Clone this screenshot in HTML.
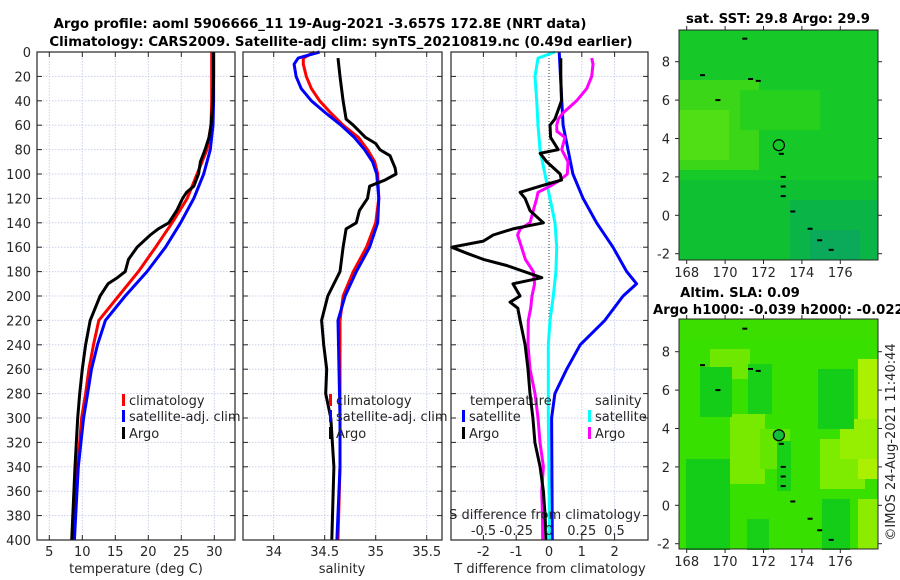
<!DOCTYPE html>
<html><head><meta charset="utf-8"><style>
html,body{margin:0;padding:0;background:#fff;}
svg{display:block;font-family:"DejaVu Sans","Liberation Sans",sans-serif;}
</style></head><body>
<svg id="fig" width="900" height="580" viewBox="0 0 900 580" xmlns="http://www.w3.org/2000/svg"></svg>
<script>
// ---------- data ----------
const depthTicks = [0,20,40,60,80,100,120,140,160,180,200,220,240,260,280,300,320,340,360,380,400];
const tempTicks = [5,10,15,20,25,30];
const salTicks = [34,34.5,35,35.5];
const salTickLabels = ["34","34.5","35","35.5"];
const tdTicks = [-2,-1,0,1,2];
const sdTicks = [-0.5,-0.25,0,0.25,0.5];
const sdTickLabels = ["-0.5","-0.25","0","0.25","0.5"];

const tClimDepth = [0,20,40,60,80,100,120,140,160,180,200,220,240,260,280,300,340,400];
const tClim = [29.6,29.6,29.6,29.5,28.9,27.4,25.9,23.6,21.1,18.5,15.5,12.5,11.7,11.0,10.5,9.9,9.3,8.6];
const tSat = [29.9,29.9,29.9,29.8,29.4,28.4,26.9,24.9,22.6,19.8,16.5,13.5,12.3,11.4,10.8,10.2,9.4,8.8];
const tArgoDepth = [0,20,40,60,70,80,90,100,110,115,120,130,140,145,150,160,170,180,185,190,200,220,240,260,280,300,340,400];
const tArgo = [29.9,29.9,29.8,29.5,29.2,28.6,27.9,27.6,26.9,25.8,25.2,24.3,23.1,21.5,20.3,18.3,17.0,16.5,15.3,13.9,12.7,11.2,10.5,10.0,9.6,9.3,8.9,8.4];

const sClimDepth = [0,5,10,20,30,40,50,60,70,80,90,100,120,140,160,180,200,220,260,300,340,400];
const sClim = [34.40,34.29,34.29,34.32,34.37,34.45,34.56,34.68,34.83,34.92,34.99,35.02,35.03,35.0,34.91,34.78,34.68,34.65,34.65,34.65,34.65,34.63];
const sSat = [34.45,34.24,34.20,34.22,34.27,34.37,34.51,34.66,34.79,34.89,34.97,35.01,35.03,35.02,34.94,34.81,34.70,34.63,34.64,34.65,34.65,34.62];
const sArgoDepth = [5,20,40,55,60,70,75,80,85,95,100,105,110,120,130,140,145,160,180,200,220,240,260,280,300,340,400];
const sArgo = [34.63,34.65,34.68,34.71,34.78,34.90,35.0,35.04,35.14,35.19,35.2,35.09,34.94,34.92,34.84,34.81,34.71,34.68,34.65,34.53,34.47,34.49,34.52,34.51,34.56,34.59,34.57];

const tdSatDepth = [0,60,100,120,140,160,180,190,200,220,240,260,280,300,400];
const tdSat = [0.31,0.43,0.73,1.04,1.45,1.95,2.37,2.67,2.26,1.7,0.95,0.54,0.18,0.08,0.1];
const tdArgoDepth = [5,20,40,55,60,70,80,83,90,100,105,110,115,120,130,140,145,150,155,160,165,170,175,185,190,200,205,210,220,240,260,280,300,320,340,360,380,400];
const tdArgo = [0.36,0.36,0.38,0.18,0.03,0.05,0.28,-0.27,-0.07,0.34,0.38,-0.27,-0.88,-0.73,-0.58,-0.17,-1.1,-1.7,-2.0,-2.97,-2.5,-2.0,-1.29,-0.22,-1.1,-0.88,-1.19,-0.95,-0.88,-0.73,-0.64,-0.58,-0.49,-0.43,-0.27,-0.17,-0.12,-0.09];
const sdSatDepth = [0,5,20,40,60,80,100,120,140,160,180,200,220,240,300,400];
const sdSat = [0.046,-0.084,-0.107,-0.094,-0.084,-0.069,-0.031,0.008,0.046,0.059,0.053,0.033,0.008,-0.005,-0.005,0.005];
const sdArgoDepth = [5,10,20,30,40,50,55,60,65,70,80,90,100,105,110,115,120,130,140,145,150,160,170,180,190,200,210,220,240,260,280,300,320,340,360,380,400];
const sdArgo = [0.326,0.336,0.326,0.288,0.211,0.107,0.071,0.059,0.06,0.122,0.097,0.145,0.14,0.084,0.008,-0.084,-0.094,-0.12,-0.145,-0.22,-0.24,-0.21,-0.18,-0.12,-0.11,-0.13,-0.14,-0.158,-0.16,-0.145,-0.107,-0.084,-0.069,-0.043,-0.056,-0.05,-0.048];

const lonTicks = [168,170,172,174,176];
const latTicks = [8,6,4,2,0,-2];
const argoLon = [172.8];
const argoLat = [3.65];

// ---------- scales ----------
const yD = d => 52 + d*1.22;
const xT = t => 49.3 + (t-5)*6.6;
const xS = s => 273.7 + (s-34)*102;
const xTD = v => 549 + v*32.8;
const xSD = v => 549 + v*131;
const xLon = l => 686.7 + (l-168)*19.2;
const yLat1 = l => 61.7 + (8-l)*19.2;
const yLat2 = l => 351.7 + (8-l)*19.2;

const NS = "http://www.w3.org/2000/svg";
const svg = document.getElementById('fig');
function mk(tag, attrs, parent){
  const e = document.createElementNS(NS, tag);
  for (const k in attrs) e.setAttribute(k, attrs[k]);
  (parent||svg).appendChild(e);
  return e;
}
function txt(s, x, y, opts, parent){
  const e = mk('text', Object.assign({x:x, y:y, 'font-size':13, fill:'#262626'}, opts||{}), parent);
  e.textContent = s;
  return e;
}

const panels = [
  {name:'temperature-panel', x0:37, x1:235},
  {name:'salinity-panel', x0:243, x1:442},
  {name:'difference-panel', x0:451, x1:648}
];
const Y0 = 52, Y1 = 540;

panels.forEach((p, i) => {
  const g = mk('g', {});
  
  
  mk('rect', {x:p.x0, y:Y0, width:p.x1-p.x0, height:Y1-Y0, fill:'#fff'}, g);
  depthTicks.forEach(d => {
    if (d>0 && d<400) {
      const gl = mk('line', {x1:p.x0, x2:p.x1, y1:yD(d), y2:yD(d), stroke:'#c9d0ea', 'stroke-width':1, 'stroke-dasharray':'1.5,1.5'}, g);
      
      
    }
    mk('line', {x1:p.x0, x2:p.x0+5, y1:yD(d), y2:yD(d), stroke:'#262626'}, g);
    mk('line', {x1:p.x1-5, x2:p.x1, y1:yD(d), y2:yD(d), stroke:'#262626'}, g);
  });
  let vt = [];
  if (i===0) vt = tempTicks.map(xT);
  if (i===1) vt = salTicks.map(xS);
  if (i===2) vt = tdTicks.filter(v=>v!==0).map(xTD);
  vt.forEach(x => {
    const gl = mk('line', {x1:x, x2:x, y1:Y0, y2:Y1, stroke:'#c9d0ea', 'stroke-width':1, 'stroke-dasharray':'1.5,1.5'}, g);
    
    
    mk('line', {x1:x, x2:x, y1:Y0, y2:Y0+5, stroke:'#262626'}, g);
    mk('line', {x1:x, x2:x, y1:Y1-5, y2:Y1, stroke:'#262626'}, g);
  });
});

depthTicks.forEach(d => {
  const t = txt(String(d), 31, yD(d)+5, {'text-anchor':'end'});
  
  
});
tempTicks.forEach(v => {
  const t = txt(String(v), xT(v), 556, {'text-anchor':'middle'});
  
  
});
salTicks.forEach((v, i) => {
  const t = txt(salTickLabels[i], xS(v), 556, {'text-anchor':'middle'});
  
  
});
tdTicks.forEach(v => {
  const t = txt(String(v), xTD(v), 556, {'text-anchor':'middle'});
  
  
});

let lbl;
lbl = txt('temperature (deg C)', 136, 573, {'text-anchor':'middle'});


lbl = txt('salinity', 342, 573, {'text-anchor':'middle'});


lbl = txt('T difference from climatology', 550, 573, {'text-anchor':'middle'});



const zl = mk('line', {x1:549, x2:549, y1:Y0, y2:Y1, stroke:'#333', 'stroke-width':1, 'stroke-dasharray':'1,2'});



function series(depths, vals, xf, color, name){
  const pts = depths.map((d,i) => xf(vals[i]).toFixed(1)+','+yD(d).toFixed(1)).join(' ');
  const pl = mk('polyline', {points:pts, fill:'none', stroke:color, 'stroke-width':3, 'stroke-linejoin':'round'});
  
  
}
series(tClimDepth, tClim, xT, '#ff0000', 'temperature-climatology-line');
series(tClimDepth, tSat, xT, '#0000ff', 'temperature-satellite-line');
series(tArgoDepth, tArgo, xT, '#000000', 'temperature-argo-line');
series(sClimDepth, sClim, xS, '#ff0000', 'salinity-climatology-line');
series(sClimDepth, sSat, xS, '#0000ff', 'salinity-satellite-line');
series(sArgoDepth, sArgo, xS, '#000000', 'salinity-argo-line');
series(tdSatDepth, tdSat, xTD, '#0000ff', 't-diff-satellite-line');
series(sdSatDepth, sdSat, xSD, '#00ffff', 's-diff-satellite-line');
series(sdArgoDepth, sdArgo, xSD, '#ff00ff', 's-diff-argo-line');
series(tdArgoDepth, tdArgo, xTD, '#000000', 't-diff-argo-line');

panels.forEach(p => {
  mk('rect', {x:p.x0, y:Y0, width:p.x1-p.x0, height:Y1-Y0, fill:'none', stroke:'#262626', 'stroke-width':1.2});
});

lbl = txt('S difference from climatology', 545, 519, {'text-anchor':'middle'});


sdTicks.forEach((v, i) => {
  const t = txt(sdTickLabels[i], xSD(v), 535, {'text-anchor':'middle'});
  
  
});

function legItem(x, y, color, label, name){
  const g = mk('g', {});
  
  
  mk('rect', {x:x, y:y-11, width:3, height:12, fill:color}, g);
  txt(label, x+7, y, {}, g);
}
legItem(122, 405, '#ff0000', 'climatology', 'legend-climatology');
legItem(122, 421, '#0000ff', 'satellite-adj. clim', 'legend-satellite-adj');
legItem(122, 438, '#000000', 'Argo', 'legend-argo');
legItem(329, 405, '#ff0000', 'climatology', 'legend-sal-climatology');
legItem(329, 421, '#0000ff', 'satellite-adj. clim', 'legend-sal-satellite-adj');
legItem(329, 438, '#000000', 'Argo', 'legend-sal-argo');
lbl = txt('temperature', 470, 405, {});


legItem(462, 421, '#0000ff', 'satellite', 'legend-t-satellite');
legItem(462, 438, '#000000', 'Argo', 'legend-t-argo');
lbl = txt('salinity', 595, 405, {});


legItem(588, 421, '#00ffff', 'satellite', 'legend-s-satellite');
legItem(588, 438, '#ff00ff', 'Argo', 'legend-s-argo');

lbl = txt('Argo profile: aoml 5906666_11 19-Aug-2021 -3.657S 172.8E (NRT data)', 320, 28, {'text-anchor':'middle','font-weight':'bold','font-size':13.3,fill:'#000'});


lbl = txt('Climatology: CARS2009. Satellite-adj clim: synTS_20210819.nc (0.49d earlier)', 341, 46, {'text-anchor':'middle','font-weight':'bold','font-size':13.3,fill:'#000'});



// ---------- maps ----------
function drawMap(top, yL, name, base, patches, markerFill){
  const g = mk('g', {});
  
  
  const bot = top + 230;
  mk('rect', {x:679, y:top, width:199, height:230, fill:base}, g);
  patches.forEach(p => mk('rect', {x:p[0], y:top+p[1], width:p[2], height:p[3], fill:p[4]}, g));
  const coast = [[172.9,3.2],[173.0,2.0],[173.0,1.5],[173.0,1.0],[173.5,0.2],[174.4,-0.7],[174.9,-1.3],[175.5,-1.8],[171.3,7.1],[171.7,7.0],[169.6,6.0],[168.8,7.3],[171.0,9.2]];
  coast.forEach(c => mk('rect', {x:xLon(c[0])-2, y:yL(c[1])-1, width:5, height:2, fill:'#000'}, g));
  mk('rect', {x:679, y:top, width:199, height:230, fill:'none', stroke:'#262626', 'stroke-width':1}, g);
  lonTicks.forEach(l => {
    mk('line', {x1:xLon(l), x2:xLon(l), y1:bot, y2:bot+4, stroke:'#262626'}, g);
    mk('line', {x1:xLon(l), x2:xLon(l), y1:top, y2:top-4, stroke:'#262626'}, g);
    const t = txt(String(l), xLon(l), bot+17, {'text-anchor':'middle'}, g);
    
    
  });
  latTicks.forEach(l => {
    mk('line', {x1:675, x2:679, y1:yL(l), y2:yL(l), stroke:'#262626'}, g);
    mk('line', {x1:878, x2:882, y1:yL(l), y2:yL(l), stroke:'#262626'}, g);
    const t = txt(String(l), 670, yL(l)+5, {'text-anchor':'end'}, g);
    
    
  });
  argoLon.forEach((lo, i) => {
    const c = mk('circle', {cx:xLon(lo), cy:yL(argoLat[i]), r:5.5, fill:markerFill, stroke:'#000', 'stroke-width':1.2}, g);
    
    
  });
}
drawMap(30, yLat1, 'sst-map', 'rgb(22,200,40)', [
  [679,50,80,90,'rgb(60,214,24)'],
  [679,80,50,50,'rgb(80,222,20)'],
  [740,60,80,40,'rgb(40,208,30)'],
  [679,150,199,80,'rgb(14,192,50)'],
  [790,170,88,60,'rgb(10,180,70)'],
  [810,200,50,30,'rgb(10,170,90)']
], 'none');
drawMap(319, yLat2, 'sla-map', 'rgb(56,224,0)', [
  [679,0,199,20,'rgb(60,222,0)'],
  [710,30,40,30,'rgb(110,232,0)'],
  [730,95,35,70,'rgb(120,234,0)'],
  [760,110,30,40,'rgb(100,230,0)'],
  [820,120,45,50,'rgb(125,236,0)'],
  [858,40,20,120,'rgb(170,240,0)'],
  [840,100,38,40,'rgb(150,238,0)'],
  [858,180,20,50,'rgb(140,236,0)'],
  [700,48,32,50,'rgb(20,205,25)'],
  [748,45,24,50,'rgb(25,208,25)'],
  [818,50,36,60,'rgb(20,205,25)'],
  [686,140,44,91,'rgb(20,205,25)'],
  [777,122,14,50,'rgb(25,208,25)'],
  [822,180,28,51,'rgb(20,205,25)'],
  [747,200,22,31,'rgb(25,208,25)']
], 'rgb(20,190,60)');

lbl = txt('sat. SST: 29.8 Argo: 29.9', 778, 23, {'text-anchor':'middle','font-weight':'bold','font-size':13.2,fill:'#000'});


lbl = txt('Altim. SLA: 0.09', 740, 297, {'text-anchor':'middle','font-weight':'bold','font-size':13.2,fill:'#000'});


lbl = txt('Argo h1000: -0.039 h2000: -0.022', 653, 314, {'font-weight':'bold','font-size':13.2,fill:'#000'});


lbl = txt('©IMOS 24-Aug-2021 11:40:44', 0, 0, {'text-anchor':'middle', transform:'translate(895,442) rotate(-90)'});


</script>
</body></html>
